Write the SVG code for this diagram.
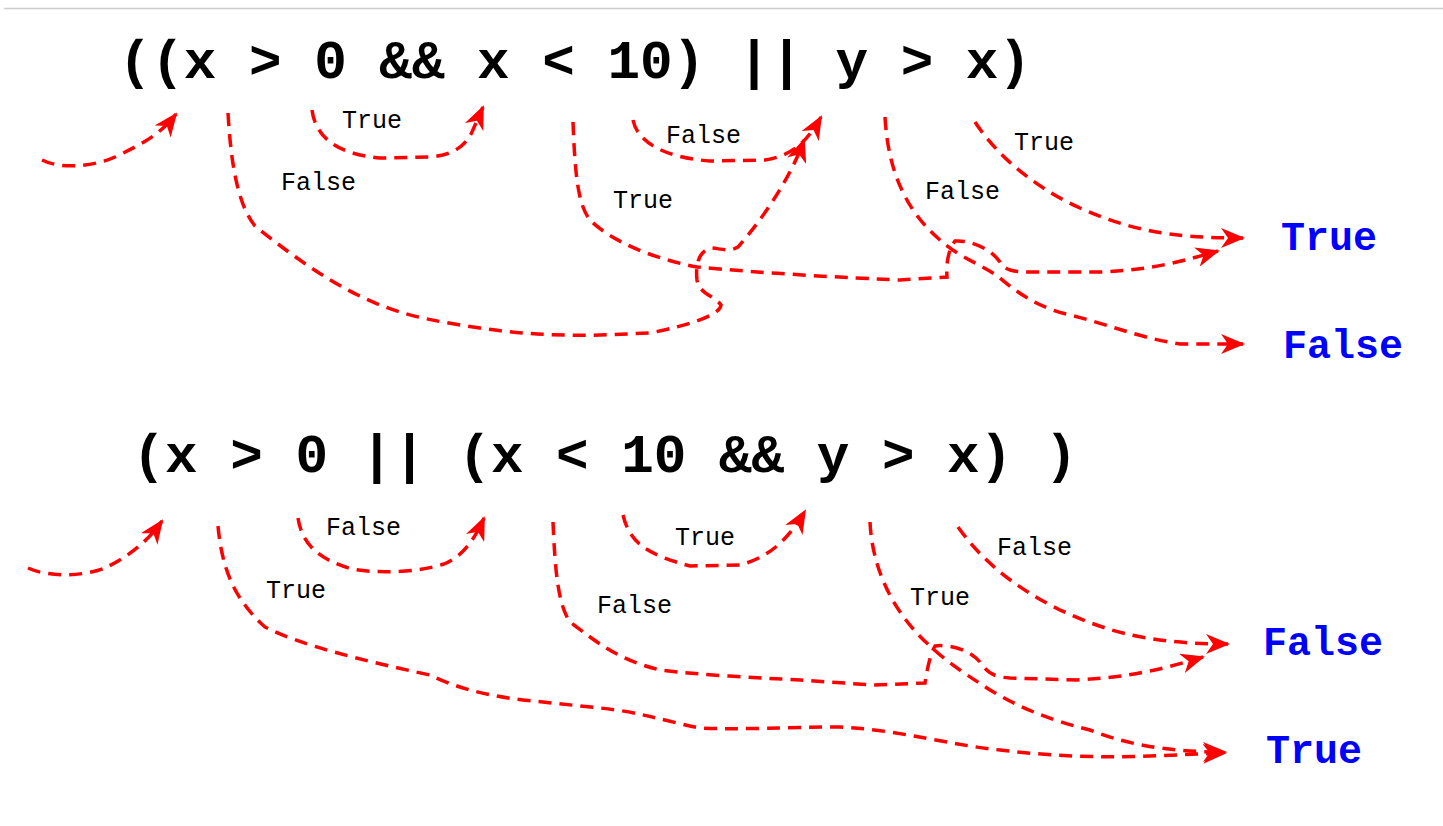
<svg xmlns="http://www.w3.org/2000/svg" width="1443" height="826" viewBox="0 0 1443 826">
<style>
.expr{font-family:"Liberation Mono","Courier New",monospace;font-weight:bold;font-size:54.3px;fill:#000}
.lbl{font-family:"Liberation Mono","Courier New",monospace;font-size:25px;fill:#000}
.res{font-family:"Liberation Mono","Courier New",monospace;font-weight:bold;font-size:40px;fill:#0000ff}
.c{fill:none;stroke:#ff0000;stroke-width:3.5;stroke-dasharray:13 8;marker-end:url(#ah)}
</style>
<defs>
<marker id="ah" viewBox="0 0 24 20" refX="22" refY="10" markerWidth="24" markerHeight="20" markerUnits="userSpaceOnUse" orient="auto">
<path d="M0,0 L24,10 L0,20 L7,10 z" fill="#ff0000"/>
</marker>
</defs>
<rect width="1443" height="826" fill="#fff"/>
<line x1="4" y1="8.5" x2="1443" y2="8.5" stroke="#cccccc" stroke-width="1.5"/>

<g id="top-expression"><text class="expr" x="118.7" y="78">((x &gt; 0 &amp;&amp; x &lt; 10) || y &gt; x)</text></g>
<g id="top-result-true"><text class="res" x="1281" y="250">True</text></g>
<g id="top-result-false"><text class="res" x="1283" y="358">False</text></g>

<g id="bottom-expression"><text class="expr" x="132.5" y="472">(x &gt; 0 || (x &lt; 10 &amp;&amp; y &gt; x) )</text></g>
<g id="bottom-result-false"><text class="res" x="1263" y="655">False</text></g>
<g id="bottom-result-true"><text class="res" x="1266" y="763">True</text></g>

<g id="connectors">
<path class="c" d="M42,160 C62,170 95,166 115,157 C140,145 160,135 176,114"/>
<path class="c" d="M228,113 C231,165 238,205 255,226 C285,250 330,285 380,305 C410,317 440,322 480,328 C520,334 560,336 600,335 L650,333 C685,326 720,316 721,305 C715,296 699,294 697,280 C695,262 700,250 712,248 C722,249 730,252 738,247 C760,222 790,180 804,140"/>
<path class="c" d="M312,110 C316,142 345,155 380,158 L432,157 C455,154 466,145 472,132 L483,107"/>
<path class="c" d="M573,122 C575,175 578,205 590,220 C610,240 650,258 697,267 C760,273 850,278 900,280 L947,277 C946,265 948,250 955,241 C970,240 990,248 1000,262 C1005,270 1012,272 1030,272 L1100,272 C1150,270 1180,262 1218,251"/>
<path class="c" d="M633,120 C638,145 670,158 710,161 L765,160 C790,156 805,145 821,117"/>
<path class="c" d="M885,117 C888,170 905,210 940,240 C960,258 985,266 1000,278 C1020,295 1040,308 1070,315 C1110,325 1140,338 1180,344 L1243,344"/>
<path class="c" d="M975,122 C1000,160 1040,190 1080,208 C1130,230 1170,238 1243,238"/>

<path class="c" d="M28,568 C50,578 85,576 105,568 C125,558 145,545 162,521"/>
<path class="c" d="M218,526 C222,570 235,600 265,627 C300,645 360,660 430,675 C450,685 480,695 523,700 L600,708 C640,712 660,720 700,728 C740,730 790,727 840,727 C900,730 950,745 1000,750 C1050,756 1100,758 1150,756 L1225,753"/>
<path class="c" d="M298,518 C302,545 320,560 352,569 C380,574 420,572 444,564 C460,557 472,545 484,518"/>
<path class="c" d="M553,522 C555,570 558,605 570,622 C600,645 620,660 660,670 C700,675 760,678 800,680 L873,685 L925,683 C927,670 930,655 935,646 C950,644 970,650 980,662 C987,672 992,677 1010,678 L1077,680 C1130,677 1160,670 1203,657"/>
<path class="c" d="M623,515 C630,545 650,555 690,566 L740,565 C765,558 785,545 805,511"/>
<path class="c" d="M870,522 C872,565 890,610 930,646 C950,665 975,680 990,690 C1020,708 1050,720 1090,730 C1120,742 1160,752 1225,752"/>
<path class="c" d="M958,527 C985,565 1020,590 1060,610 C1100,628 1140,644 1228,644"/>
</g>

<g id="labels">
<text class="lbl" x="342" y="128">True</text>
<text class="lbl" x="281" y="190">False</text>
<text class="lbl" x="666" y="143">False</text>
<text class="lbl" x="613" y="208">True</text>
<text class="lbl" x="925" y="199">False</text>
<text class="lbl" x="1014" y="150">True</text>
<text class="lbl" x="326" y="535">False</text>
<text class="lbl" x="266" y="598">True</text>
<text class="lbl" x="675" y="545">True</text>
<text class="lbl" x="597" y="613">False</text>
<text class="lbl" x="910" y="605">True</text>
<text class="lbl" x="997" y="555">False</text>
</g>
</svg>
